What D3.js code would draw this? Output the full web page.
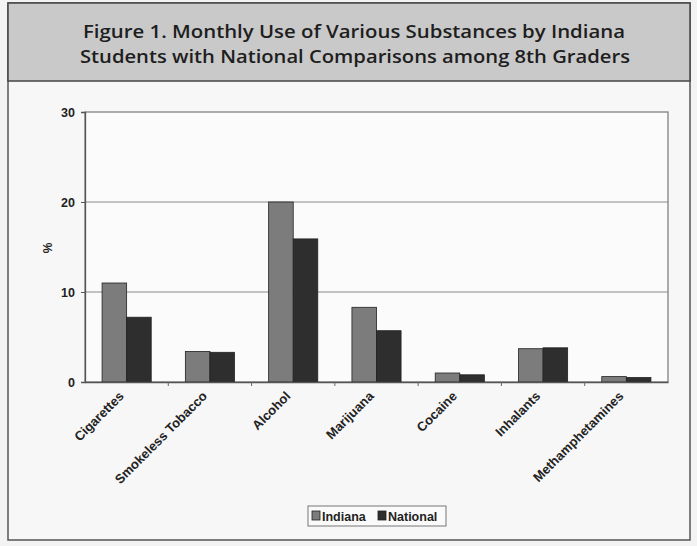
<!DOCTYPE html>
<html><head><meta charset="utf-8">
<script src="https://cdn.jsdelivr.net/npm/d3@7"></script>
<style>body{margin:0;background:#f3f3f3;}svg{display:block;}</style>
</head><body>
<script>
const categories = ["Cigarettes","Smokeless Tobacco","Alcohol","Marijuana","Cocaine","Inhalants","Methamphetamines"];
const seriesNames = ["Indiana","National"];
const indiana = [11.0, 3.4, 20.0, 8.3, 1.0, 3.7, 0.6];
const national = [7.2, 3.3, 15.9, 5.7, 0.8, 3.8, 0.5];
const yTicks = [0, 10, 20, 30];
const titleLines = ["Figure 1. Monthly Use of Various Substances by Indiana","Students with National Comparisons among 8th Graders"];
const colors = ["#7c7c7c","#2e2e2e"];

const W = 697, H = 546;
const svg = d3.select("body").append("svg").attr("width", W).attr("height", H);
svg.append("rect").attr("width", W).attr("height", H).attr("fill", "#f3f3f3");
svg.append("rect").attr("x", 8).attr("y", 3).attr("width", 682).attr("height", 537)
  .attr("fill", "#f7f7f7").attr("stroke", "#555").attr("stroke-width", 1.5);
svg.append("rect").attr("x", 8).attr("y", 3).attr("width", 682).attr("height", 78)
  .attr("fill", "#c9c9c9").attr("stroke", "#444").attr("stroke-width", 1.5);
svg.selectAll("text.title").data(titleLines).join("text")
  .attr("x", (d, i) => i === 0 ? 83 : 80).attr("y", (d, i) => i === 0 ? 38 : 63)
  .attr("font-family", "'Open Sans', 'Liberation Sans', sans-serif")
  .attr("font-size", 18).attr("font-weight", 600).attr("fill", "#1e1e1e")
  .attr("textLength", (d, i) => i === 0 ? 542 : 550).attr("lengthAdjust", "spacingAndGlyphs")
  .text(d => d);

const m = {left: 85, right: 668, top: 112, bottom: 382};
const x = d3.scaleBand().domain(categories).range([m.left, m.right]).paddingInner(0.41).paddingOuter(0.205);
const xs = d3.scaleBand().domain(seriesNames).range([0, x.bandwidth()]);
const y = d3.scaleLinear().domain([0, 30]).range([m.bottom, m.top]);
const font = "'Liberation Sans', Arial, sans-serif";

const g = svg.append("g");
g.append("rect").attr("x", m.left).attr("y", m.top).attr("width", m.right - m.left).attr("height", m.bottom - m.top)
  .attr("fill", "#fbfbfb").attr("stroke", "#777").attr("stroke-width", 1.2);
g.selectAll("line.grid").data(yTicks.filter(t => t > 0 && t < 30)).join("line")
  .attr("x1", m.left).attr("x2", m.right).attr("y1", d => y(d)).attr("y2", d => y(d))
  .attr("stroke", "#8a8a8a").attr("stroke-width", 1.2);

const data = [indiana, national];
categories.forEach((c, i) => {
  seriesNames.forEach((s, j) => {
    g.append("rect").attr("x", x(c) + xs(s)).attr("y", y(data[j][i]))
      .attr("width", xs.bandwidth()).attr("height", y(0) - y(data[j][i]))
      .attr("fill", colors[j]).attr("stroke", "#222").attr("stroke-width", 0.8);
  });
});

const yAxis = d3.axisLeft(y).tickValues(yTicks).tickSize(4).tickPadding(6);
const ya = svg.append("g").attr("transform", `translate(${m.left},0)`).call(yAxis);
ya.select(".domain").attr("stroke", "#555").attr("stroke-width", 1.3);
ya.selectAll(".tick line").attr("stroke", "#555");
ya.selectAll("text").attr("font-family", font).attr("font-size", 12.5).attr("font-weight", "bold").attr("fill", "#222");

const xAxis = d3.axisBottom(x).tickSize(0).tickPadding(0);
const xa = svg.append("g").attr("transform", `translate(0,${m.bottom})`).call(xAxis);
xa.select(".domain").attr("stroke", "#555").attr("stroke-width", 1.3);
xa.selectAll("text").attr("font-family", font).attr("font-size", 13).attr("font-weight", "bold").attr("fill", "#222")
  .attr("text-anchor", "end").attr("dy", 0).attr("transform", "translate(-2,15) rotate(-45)").attr("x", 0).attr("y", 0);
const bounds = categories.slice(1).map(c => x(c) - x.step() * x.paddingInner() / 2);
svg.selectAll("line.bt").data(bounds).join("line")
  .attr("x1", d => d).attr("x2", d => d).attr("y1", m.bottom).attr("y2", m.bottom + 4)
  .attr("stroke", "#666");

svg.append("text").attr("transform", "translate(52,248) rotate(-90)").attr("text-anchor", "middle")
  .attr("font-family", font).attr("font-size", 12).attr("font-weight", "bold").attr("fill", "#222").text("%");

const lg = svg.append("g");
lg.append("rect").attr("x", 308).attr("y", 506).attr("width", 138).attr("height", 20)
  .attr("fill", "#fafafa").attr("stroke", "#777");
const lx = [312, 378];
seriesNames.forEach((s, j) => {
  lg.append("rect").attr("x", lx[j]).attr("y", 511).attr("width", 8).attr("height", 9)
    .attr("fill", colors[j]).attr("stroke", "#222").attr("stroke-width", 0.8);
  lg.append("text").attr("x", lx[j] + 10).attr("y", 521).attr("font-family", font)
    .attr("font-size", 12.5).attr("font-weight", "bold").attr("fill", "#222").text(s);
});
</script>
</body></html>
